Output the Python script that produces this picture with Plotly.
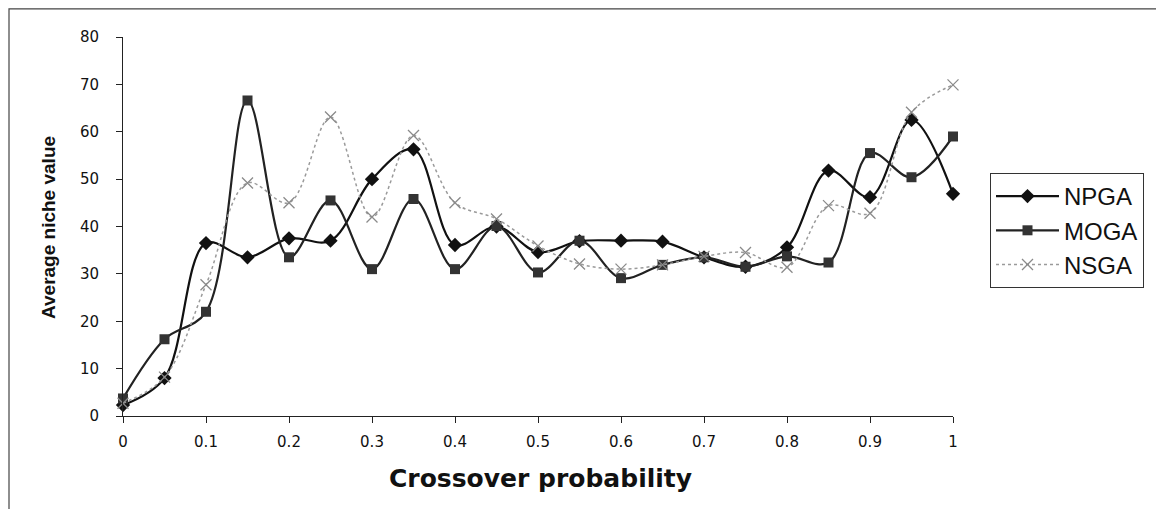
import plotly.graph_objects as go

x_vals = [0, 0.05, 0.1, 0.15, 0.2, 0.25, 0.3, 0.35, 0.4, 0.45, 0.5,
          0.55, 0.6, 0.65, 0.7, 0.75, 0.8, 0.85, 0.9, 0.95, 1.0]
npga = [2.3, 8.0, 36.5, 33.5, 37.5, 37.0, 50.0, 56.3, 36.1, 40.0, 34.6,
        36.9, 37.0, 36.8, 33.5, 31.5, 35.6, 51.8, 46.2, 62.5, 46.9]
moga = [3.7, 16.2, 22.0, 66.6, 33.5, 45.5, 31.0, 45.8, 31.0, 40.1, 30.3,
        37.0, 29.1, 31.9, 33.5, 31.5, 33.7, 32.4, 55.5, 50.4, 59.0]
nsga = [2.7, 8.2, 27.7, 49.2, 45.0, 63.1, 42.0, 59.2, 45.0, 41.6, 35.9,
        32.1, 31.0, 31.9, 33.7, 34.5, 31.4, 44.4, 42.8, 64.1, 69.9]
x_ticks = [0, 0.1, 0.2, 0.3, 0.4, 0.5, 0.6, 0.7, 0.8, 0.9, 1]
x_tick_text = ["0", "0.1", "0.2", "0.3", "0.4", "0.5", "0.6", "0.7", "0.8", "0.9", "1"]
y_ticks = [0, 10, 20, 30, 40, 50, 60, 70, 80]

FONT = "Liberation Sans, Arial, sans-serif"
WIDE = "DejaVu Sans, Liberation Sans, sans-serif"

fig = go.Figure()
fig.add_trace(go.Scatter(
    x=x_vals, y=npga, name="NPGA", mode="lines+markers",
    line=dict(color="#111111", width=2.2, shape="spline", smoothing=1.0),
    marker=dict(symbol="diamond", size=11, color="#111111"),
    cliponaxis=False))
fig.add_trace(go.Scatter(
    x=x_vals, y=moga, name="MOGA", mode="lines+markers",
    line=dict(color="#222222", width=2.2, shape="spline", smoothing=1.0),
    marker=dict(symbol="square", size=10, color="#333333"),
    cliponaxis=False))
fig.add_trace(go.Scatter(
    x=x_vals, y=nsga, name="NSGA", mode="lines+markers",
    line=dict(color="#9a9a9a", width=1.5, dash="dot", shape="spline", smoothing=1.0),
    marker=dict(symbol="x-thin", size=11, line=dict(color="#8a8a8a", width=1.3)),
    cliponaxis=False))

# the page body adds an 8px offset; geometry below is in viewport pixels
OFF = 8
W, H = 1164 - OFF, 509 - OFF
PL, PR, PT, PB = 123, 953, 37, 416  # plot area in viewport pixels
L, R, T, B = PL - OFF, (W + OFF) - PR, PT - OFF, (H + OFF) - PB
PW, PH = PR - PL, PB - PT

def px(xp):
    return (xp - PL) / PW

def py(yp):
    return (PB - yp) / PH

fig.update_layout(
    width=W, height=H,
    margin=dict(l=L, r=R, t=T, b=B),
    paper_bgcolor="white", plot_bgcolor="white",
    font=dict(family=FONT, color="#111111"),
    showlegend=True,
    legend=dict(
        x=px(990), y=py(173), xanchor="left", yanchor="top",
        bordercolor="#333333", borderwidth=1, bgcolor="white",
        font=dict(size=24, family=FONT, color="#111111"),
        tracegroupgap=0, itemwidth=63,
    ),
    xaxis=dict(
        range=[0, 1], tickmode="array", tickvals=x_ticks, ticktext=x_tick_text,
        showgrid=False, zeroline=False, showline=True, linecolor="#222222", linewidth=1,
        ticks="outside", ticklen=6, tickcolor="#222222",
        tickfont=dict(size=15, family=WIDE, color="#111111"),
        ticklabelstandoff=6,
    ),
    yaxis=dict(
        range=[0, 80], tickmode="array", tickvals=y_ticks,
        showgrid=False, zeroline=False, showline=True, linecolor="#222222", linewidth=1,
        ticks="outside", ticklen=6, tickcolor="#222222",
        tickfont=dict(size=15, family=WIDE, color="#111111"),
        ticklabelstandoff=14,
    ),
    shapes=[dict(
        type="rect", xref="paper", yref="paper",
        x0=px(9), x1=px(1159), y0=py(540), y1=py(8.8),
        line=dict(color="#444444", width=1.2), fillcolor="rgba(0,0,0,0)", layer="below",
    )],
    annotations=[
        dict(text="<b>Crossover probability</b>", xref="paper", yref="paper",
             x=px(540), y=py(478), xanchor="center", yanchor="middle",
             showarrow=False, font=dict(size=25, family=WIDE, color="#111111")),
        dict(text="<b>Average niche value</b>", xref="paper", yref="paper",
             x=px(48), y=py(228), xanchor="center", yanchor="middle", textangle=-90,
             showarrow=False, font=dict(size=19, family=FONT, color="#111111")),
    ],
)

fig.write_html("out.html")
